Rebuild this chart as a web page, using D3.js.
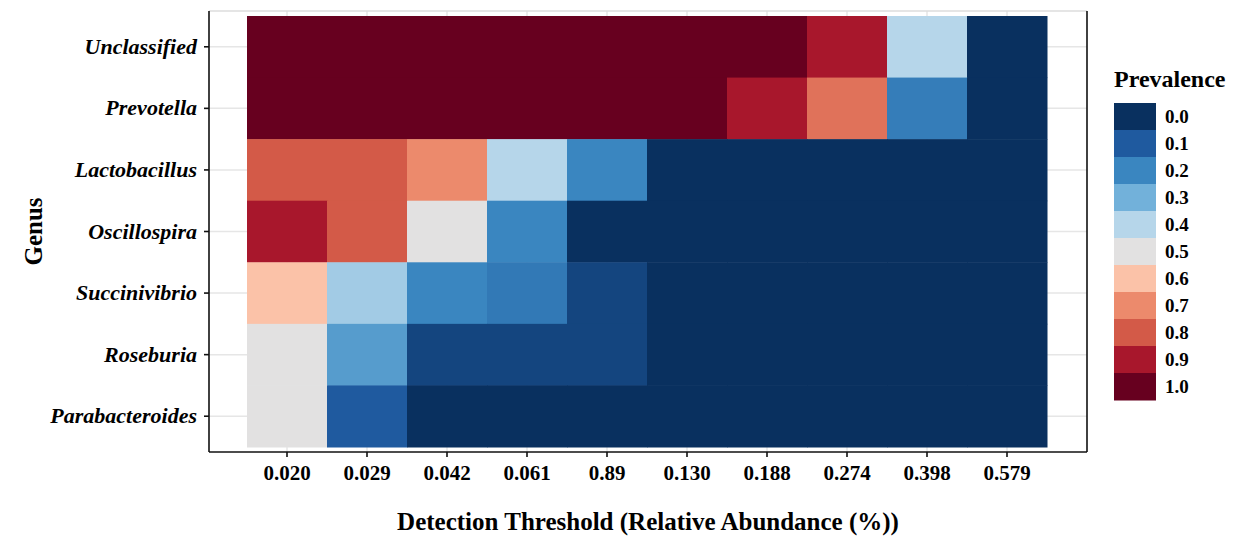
<!DOCTYPE html>
<html>
<head>
<meta charset="utf-8">
<script src="https://cdn.jsdelivr.net/npm/d3@7"></script>
<style>
  body { margin: 0; background: #fff; }
  text { font-family: "Liberation Serif", "Times New Roman", serif; font-weight: bold; fill: #000; }
</style>
</head>
<body>
<div id="chart"></div>
<script>
// detection thresholds (x categories) and genera (y categories, top to bottom)
var thresholds = ['0.020', '0.029', '0.042', '0.061', '0.89', '0.130', '0.188', '0.274', '0.398', '0.579'];
var genera = ['Unclassified', 'Prevotella', 'Lactobacillus', 'Oscillospira', 'Succinivibrio', 'Roseburia', 'Parabacteroides'];

// prevalence for each genus, one value per threshold
var unclassified    = [1.0, 1.0, 1.0, 1.0, 1.0, 1.0, 1.0, 0.9, 0.4, 0.0];
var prevotella      = [1.0, 1.0, 1.0, 1.0, 1.0, 1.0, 0.9, 0.75, 0.18, 0.0];
var lactobacillus   = [0.8, 0.8, 0.7, 0.4, 0.2, 0.0, 0.0, 0.0, 0.0, 0.0];
var oscillospira    = [0.9, 0.8, 0.5, 0.2, 0.0, 0.0, 0.0, 0.0, 0.0, 0.0];
var succinivibrio   = [0.6, 0.37, 0.2, 0.17, 0.05, 0.0, 0.0, 0.0, 0.0, 0.0];
var roseburia       = [0.5, 0.25, 0.05, 0.05, 0.05, 0.0, 0.0, 0.0, 0.0, 0.0];
var parabacteroides = [0.5, 0.1, 0.0, 0.0, 0.0, 0.0, 0.0, 0.0, 0.0, 0.0];

var rows = [unclassified, prevotella, lactobacillus, oscillospira, succinivibrio, roseburia, parabacteroides];

// legend breaks
var legendBreaks = [0.0, 0.1, 0.2, 0.3, 0.4, 0.5, 0.6, 0.7, 0.8, 0.9, 1.0];
var legendColors = ['#09305f', '#1f5a9f', '#3a86c0', '#72b1da', '#b6d6ea', '#e2e1e1',
                    '#fbc2a8', '#ec8a6c', '#d35a48', '#a8172c', '#67001f'];

var width = 1247, height = 549;
var panel = { left: 209, right: 1087, top: 11, bottom: 452 };

var svg = d3.select('#chart').append('svg')
    .attr('width', width)
    .attr('height', height);

var x = d3.scaleBand()
    .domain(thresholds)
    .range([247, 1047]);

var y = d3.scaleBand()
    .domain(genera)
    .range([16, 447]);

var color = d3.scaleLinear()
    .domain(legendBreaks)
    .range(legendColors)
    .interpolate(d3.interpolateRgb);

// grid lines
var grid = svg.append('g');
genera.forEach(function(g) {
    grid.append('line')
        .attr('x1', panel.left).attr('x2', panel.right)
        .attr('y1', y(g) + y.bandwidth() / 2).attr('y2', y(g) + y.bandwidth() / 2)
        .attr('stroke', '#e6e6e6').attr('stroke-width', 1.5);
});
thresholds.forEach(function(t) {
    grid.append('line')
        .attr('x1', x(t) + x.bandwidth() / 2).attr('x2', x(t) + x.bandwidth() / 2)
        .attr('y1', panel.top).attr('y2', panel.bottom)
        .attr('stroke', '#e6e6e6').attr('stroke-width', 1.5);
});

// tiles
var cells = [];
rows.forEach(function(vals, i) {
    vals.forEach(function(v, j) {
        cells.push({ genus: genera[i], threshold: thresholds[j], value: v });
    });
});

svg.append('g').selectAll('rect')
    .data(cells)
    .enter().append('rect')
    .attr('x', function(d) { return x(d.threshold); })
    .attr('y', function(d) { return y(d.genus); })
    .attr('width', x.bandwidth() + 0.5)
    .attr('height', y.bandwidth() + 0.5)
    .attr('fill', function(d) { return color(d.value); });

// panel border: light top, dark sides and bottom
svg.append('line')
    .attr('x1', panel.left).attr('x2', panel.right)
    .attr('y1', panel.top).attr('y2', panel.top)
    .attr('stroke', '#dcdcdc').attr('stroke-width', 1.5);
svg.append('line')
    .attr('x1', panel.right).attr('x2', panel.right)
    .attr('y1', panel.top).attr('y2', panel.bottom)
    .attr('stroke', '#111').attr('stroke-width', 1.6);

// axes
var xAxis = svg.append('g')
    .attr('transform', 'translate(0,' + panel.bottom + ')')
    .call(d3.axisBottom(x).tickSize(5).tickPadding(8).tickSizeOuter(0));
xAxis.select('.domain').attr('d', 'M' + panel.left + ',0H' + panel.right)
    .attr('stroke', '#111').attr('stroke-width', 1.6);
xAxis.selectAll('.tick line').attr('stroke', '#111').attr('stroke-width', 1.6);
xAxis.selectAll('.tick text')
    .style('font-family', '"Liberation Serif", serif')
    .style('font-weight', 'bold')
    .style('font-size', '21px')
    .attr('fill', '#000');

var yAxis = svg.append('g')
    .attr('transform', 'translate(' + panel.left + ',0)')
    .call(d3.axisLeft(y).tickSize(5).tickPadding(7).tickSizeOuter(0));
yAxis.select('.domain').attr('d', 'M0,' + panel.top + 'V' + panel.bottom)
    .attr('stroke', '#111').attr('stroke-width', 1.6);
yAxis.selectAll('.tick line').attr('stroke', '#111').attr('stroke-width', 1.6);
yAxis.selectAll('.tick text')
    .style('font-family', '"Liberation Serif", serif')
    .style('font-weight', 'bold')
    .style('font-style', 'italic')
    .style('font-size', '22px')
    .attr('fill', '#000');

// axis titles
svg.append('text')
    .attr('x', (panel.left + panel.right) / 2)
    .attr('y', 530)
    .attr('text-anchor', 'middle')
    .style('font-size', '25px')
    .text('Detection Threshold (Relative Abundance (%))');

svg.append('text')
    .attr('transform', 'translate(42,' + ((panel.top + panel.bottom) / 2) + ') rotate(-90)')
    .attr('text-anchor', 'middle')
    .style('font-size', '25px')
    .text('Genus');

// legend
var legend = svg.append('g');
var keyH = 27, keyW = 42, keyX = 1114, keyY = 103;

legend.append('text')
    .attr('x', keyX)
    .attr('y', 87)
    .style('font-size', '24px')
    .text('Prevalence');

legend.selectAll('rect')
    .data(legendBreaks)
    .enter().append('rect')
    .attr('x', keyX)
    .attr('y', function(d, i) { return keyY + i * keyH; })
    .attr('width', keyW)
    .attr('height', keyH + 0.5)
    .attr('fill', function(d) { return color(d); });

legend.selectAll('text.lab')
    .data(legendBreaks)
    .enter().append('text')
    .attr('class', 'lab')
    .attr('x', keyX + keyW + 9)
    .attr('y', function(d, i) { return keyY + i * keyH + keyH / 2; })
    .attr('dy', '0.35em')
    .style('font-size', '19px')
    .text(function(d) { return d.toFixed(1); });
</script>
</body>
</html>
